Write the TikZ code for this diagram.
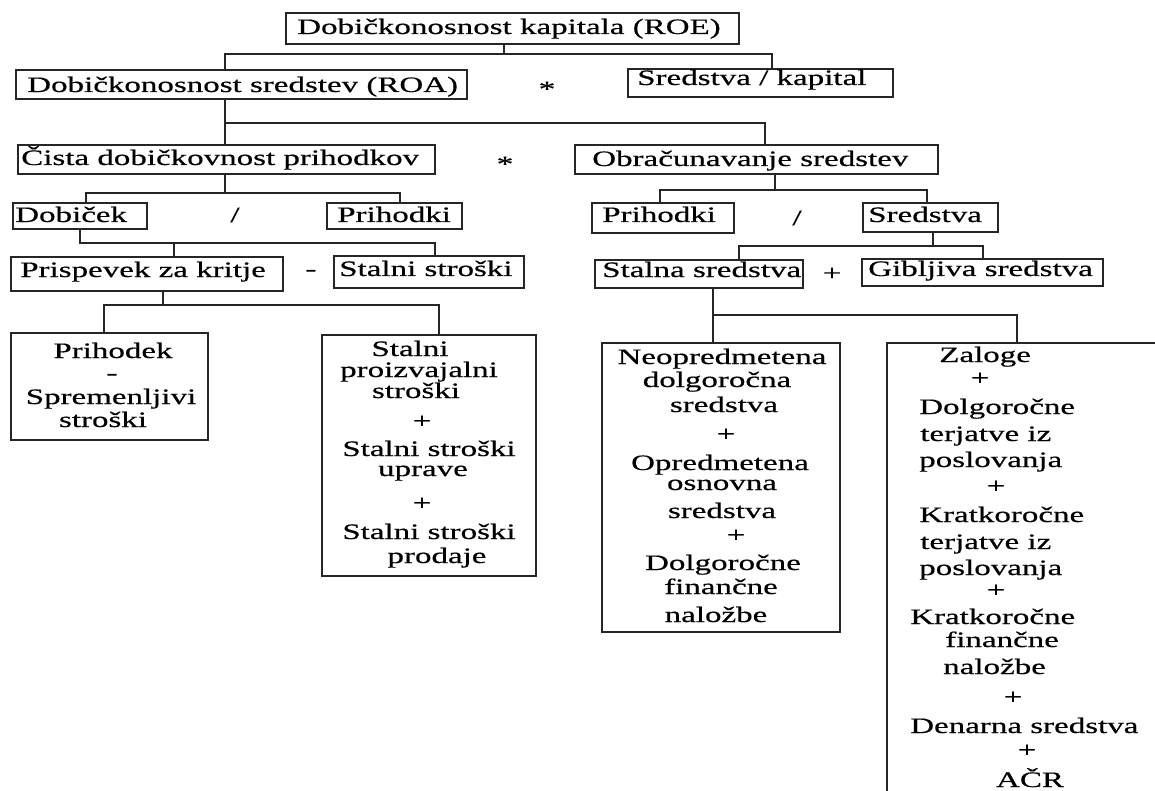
\documentclass[tikz,border=0pt]{standalone}
\usepackage{fontspec}
\setmainfont{Liberation Serif}[FakeStretch=1.5,FakeBold=0.5]
\usetikzlibrary{fit}
\begin{document}
\begin{tikzpicture}[x=0.75pt,y=-0.75pt,
  box/.style={draw=black!85, line width=1.3pt, inner sep=0pt},
  txt/.style={inner sep=0pt, font=\fontsize{16.5}{19}\selectfont, text=black},
  ln/.style={draw=black!85, line width=1.3pt}]
\clip (0,0) rectangle (1155,791);
\fill[white] (0,0) rectangle (1155,791);
% boxes
\node[box, fit={(286,13) (739,44)}] (roe) {};
\node[box, fit={(16,70) (467,99)}] (roa) {};
\node[box, fit={(628,69) (893,97)}] (skap) {};
\node[box, fit={(18,145) (435,174)}] (cista) {};
\node[box, fit={(575,145) (938,174)}] (obrac) {};
\node[box, fit={(13,203) (147,229)}] (dob) {};
\node[box, fit={(327,203) (462,229)}] (prihL) {};
\node[box, fit={(11,257) (283,291)}] (prisp) {};
\node[box, fit={(334,256) (524,288)}] (sstr) {};
\node[box, fit={(592,203) (734,233)}] (prihR) {};
\node[box, fit={(863,203) (998,232)}] (sred) {};
\node[box, fit={(595,260) (803,288)}] (stalna) {};
\node[box, fit={(862,259) (1103,286)}] (gib) {};
\node[box, fit={(11,333) (208,440)}] (b1) {};
\node[box, fit={(322,335) (536,576)}] (b2) {};
\node[box, fit={(602,343) (840,632)}] (b3) {};
\node[box, fit={(887,343) (1175,805)}] (b4) {};
% single-line texts
\node[txt, anchor=base west] (troe) at (297,34) {Dobičkonosnost kapitala (ROE)};
\node[txt, anchor=base west] (troa) at (27,92) {Dobičkonosnost sredstev (ROA)};
\node[txt, anchor=base west] (tskap) at (637,85) {Sredstva / kapital};
\node[txt, anchor=base west] (tcista) at (21,165) {Čista dobičkovnost prihodkov};
\node[txt, anchor=base west] (tobrac) at (592,166) {Obračunavanje sredstev};
\node[txt, anchor=base west] (tdob) at (15,222) {Dobiček};
\node[txt, anchor=base west] (tprihL) at (337,222) {Prihodki};
\node[txt, anchor=base west] (tprisp) at (20,277) {Prispevek za kritje};
\node[txt, anchor=base west] (tsstr) at (339,276) {Stalni stroški};
\node[txt, anchor=base west] (tprihR) at (602,222) {Prihodki};
\node[txt, anchor=base west] (tsred) at (868,222) {Sredstva};
\node[txt, anchor=base west] (tstalna) at (602,277) {Stalna sredstva};
\node[txt, anchor=base west] (tgib) at (868,276) {Gibljiva sredstva};
% operators
\node[txt] (op1) at (547,89) {*};
\node[txt] (op2) at (505,164) {*};
\node[txt] (op3) at (235,215) {/};
\node[txt] (op4) at (311,273) {-};
\node[txt] (op5) at (797,218) {/};
\node[txt] (op6) at (832,274) {+};
% box 1
\foreach \t/\x/\y [count=\i] in {Prihodek/113/358, -/112/380, Spremenljivi/111/404, stroški/103/427}
  \node[txt, anchor=base] (bA\i) at (\x,\y) {\t};
% box 2
\foreach \t/\x/\y [count=\i] in {Stalni/410/356, proizvajalni/419/377, stroški/416/398, +/422/428, Stalni stroški/429/456, uprave/423/476, +/422/510, Stalni stroški/429/539, prodaje/437/563}
  \node[txt, anchor=base] (bB\i) at (\x,\y) {\t};
% box 3
\foreach \t/\x/\y [count=\i] in {Neopredmetena/722/364, dolgoročna/717/387, sredstva/724/412, +/726/441, Opredmetena/720/470, osnovna/722/490, sredstva/722/518, +/736/542, Dolgoročne/723/570, finančne/721/594, naložbe/716/622}
  \node[txt, anchor=base] (bC\i) at (\x,\y) {\t};
% box 4
\foreach \t/\x/\y [count=\i] in {Zaloge/939/362, Dolgoročne/919/414, terjatve iz/920/441, poslovanja/919/467, Kratkoročne/919/522, terjatve iz/920/549, poslovanja/919/575, Kratkoročne/910/624, finančne/945/647, naložbe/943/674, Denarna sredstva/910/733}
  \node[txt, anchor=base west] (bD\i) at (\x,\y) {\t};
\foreach \x/\y [count=\i] in {980/385, 996/493, 996/597, 1013/704, 1027/757}
  \node[txt, anchor=base] (bP\i) at (\x,\y) {+};
\node[txt, anchor=base] (bacr) at (1030,787) {AČR};
% connectors
\coordinate (a1) at (504,54); \coordinate (a2) at (225,54); \coordinate (a3) at (772,54);
\draw[ln] (roe.south -| a1) -- (a1) (roa.north -| a2) -- (a2) -- (a3) -- (skap.north -| a3);
\coordinate (c1) at (225,123); \coordinate (c2) at (765,123);
\draw[ln] (roa.south -| c1) -- (cista.north -| c1) (c1) -- (c2) -- (obrac.north -| c2);
\coordinate (d0) at (225,193); \coordinate (d1) at (86,193); \coordinate (d2) at (400,193);
\draw[ln] (cista.south -| d0) -- (d0) (dob.north -| d1) -- (d1) -- (d2) -- (prihL.north -| d2);
\coordinate (e1) at (80,243); \coordinate (e2) at (174,243); \coordinate (e3) at (435,243);
\draw[ln] (dob.south -| e1) -- (e1) -- (e3) -- (sstr.north -| e3) (e2) -- (prisp.north -| e2);
\coordinate (f0) at (163,305); \coordinate (f1) at (104,305); \coordinate (f2) at (439,305);
\draw[ln] (prisp.south -| f0) -- (f0) (b1.north -| f1) -- (f1) -- (f2) -- (b2.north -| f2);
\coordinate (g0) at (775,190); \coordinate (g1) at (660,190); \coordinate (g2) at (927,190);
\draw[ln] (obrac.south -| g0) -- (g0) (prihR.north -| g1) -- (g1) -- (g2) -- (sred.north -| g2);
\coordinate (h0) at (933,246); \coordinate (h1) at (739,246); \coordinate (h2) at (983,246);
\draw[ln] (sred.south -| h0) -- (h0) (stalna.north -| h1) -- (h1) -- (h2) -- (gib.north -| h2);
\coordinate (k1) at (713,315); \coordinate (k2) at (1017,315);
\draw[ln] (stalna.south -| k1) -- (b3.north -| k1) (k1) -- (k2) -- (b4.north -| k2);
\end{tikzpicture}
\end{document}
